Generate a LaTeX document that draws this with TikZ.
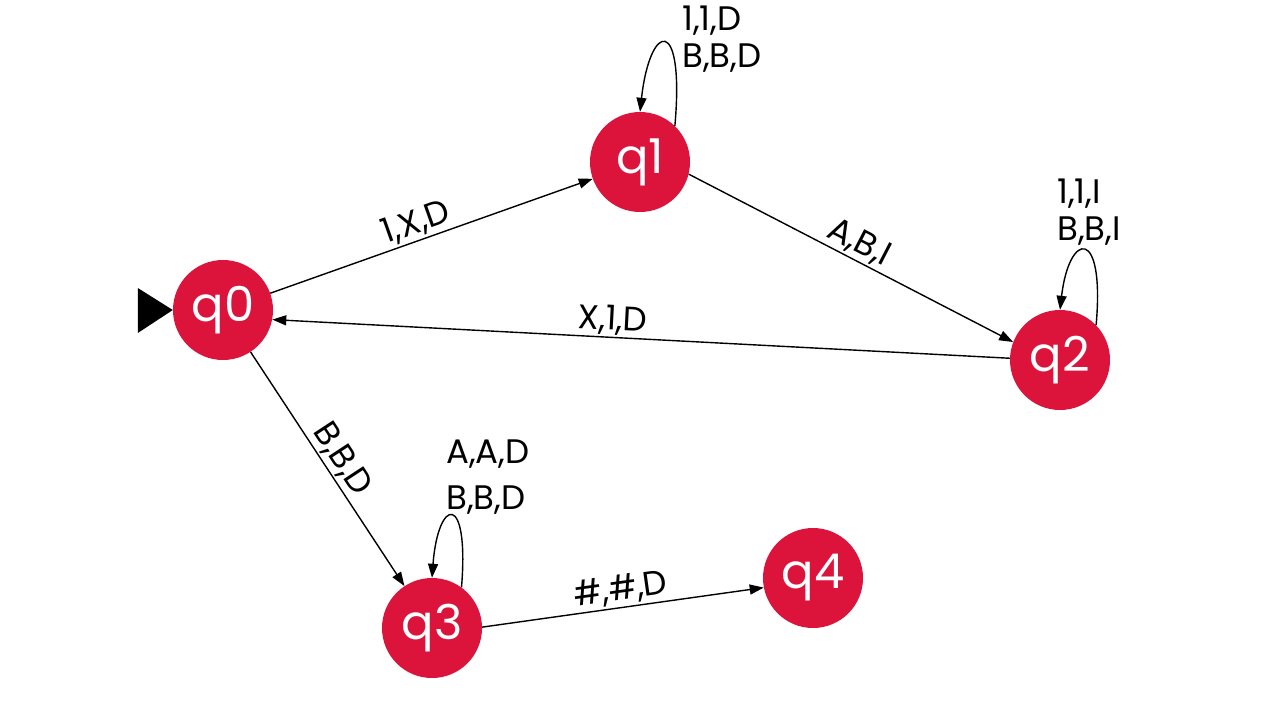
\documentclass[tikz,border=0pt]{standalone}
\usepackage{fontspec}
\setmainfont{Poppins}
\usetikzlibrary{arrows.meta}
\definecolor{statered}{HTML}{DC143C}
\begin{document}
\begin{tikzpicture}[x=1pt,y=-1pt,
  state/.style={circle,fill=statered,minimum size=100pt,inner sep=0pt,
    text=white,font=\fontsize{48}{48}\selectfont},
  trans/.style={line width=1.4pt,-{Triangle[length=14pt,width=10pt]}},
  lbl/.style={font=\fontsize{34}{37}\selectfont,inner sep=2pt},
  looplbl/.style={font=\fontsize{34}{37}\selectfont,inner sep=0pt,
    align=left,anchor=west}]
\useasboundingbox (0,0) rectangle (1280,720);

% states
\node[state] (q0) at (223,310) {q0};
\node[state] (q1) at (640,162) {q1};
\node[state] (q2) at (1060,360) {q2};
\node[state] (q3) at (432,628) {q3};
\node[state] (q4) at (813,578) {q4};

% start marker
\fill (q0.west) -- ++(-35,-22) -- ++(0,45) -- cycle;

% transitions
\draw[trans] (q0) -- node[lbl,sloped,above,pos=0.47] {1,X,D} (q1);
\draw[trans] (q1.-14) -- node[lbl,sloped,above,pos=0.5] {A,B,I} (q2.159);
\draw[trans] (q2.178) -- node[lbl,sloped,above,pos=0.54] {X,1,D} (q0.-11);
\draw[trans] (q0) -- node[lbl,sloped,above,pos=0.5] {B,B,D} (q3);
\draw[trans] (q3.1) -- node[lbl,sloped,above,pos=0.5] {\#,\#,D} (q4.191);

% self loops, labels set flush left above each loop
\draw[trans] (q1.46) .. controls +(10,-112) and +(10,-90) .. (q1.90);
\node[looplbl] (l1) at (682,39) {1,1,D\\B,B,D};

\draw[trans] (q2.44) .. controls +(9,-100) and +(9,-78) .. (q2.90);
\node[looplbl] (l2) at (1057,212) {1,1,I\\B,B,I};

\draw[trans] (q3.54) .. controls +(8,-97) and +(6,-80) .. (q3.90);
\node[looplbl] (l3) at (446,477) {A,A,D\\[9pt]B,B,D};
\end{tikzpicture}
\end{document}
